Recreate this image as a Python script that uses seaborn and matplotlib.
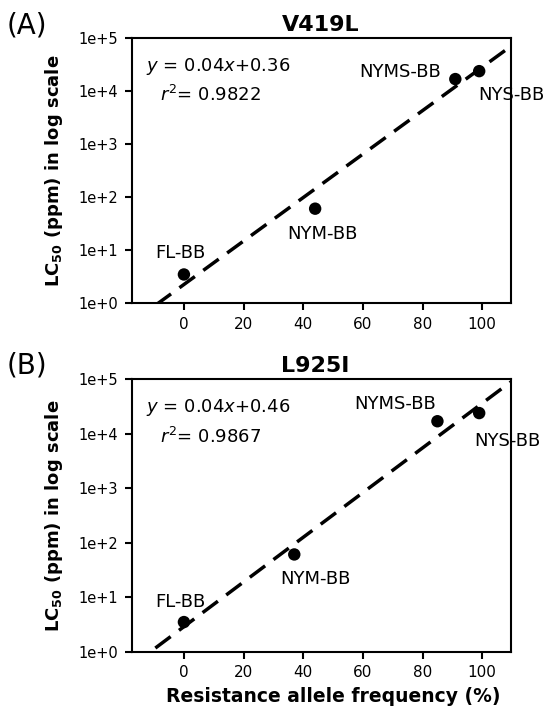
import numpy as np
import pandas as pd
import matplotlib
matplotlib.use("Agg")
import matplotlib.pyplot as plt
from matplotlib.ticker import NullLocator, FixedLocator, FixedFormatter
import seaborn as sns

# ---------------- data ----------------
populations = ["FL-BB", "NYM-BB", "NYMS-BB", "NYS-BB"]
lc50_ppm = [3.5, 61, 17000, 24000]
freq_v419l = [0, 44, 91, 99]
freq_l925i = [0, 37, 85, 99]
# drawn regression lines (log10(LC50) = intercept + slope * freq)
fit_v419l = [0.041, 0.355]
fit_l925i = [0.041, 0.46]
eq_v419l = ["0.04", "0.36", "0.9822"]
eq_l925i = ["0.04", "0.46", "0.9867"]
panel_titles = ["V419L", "L925I"]
panel_letters = ["(A)", "(B)"]
x_ticks = [0, 20, 40, 60, 80, 100]
y_ticks = [1, 10, 100, 1000, 10000, 100000]
y_tick_labels = ["1e+0", "1e+1", "1e+2", "1e+3", "1e+4", "1e+5"]
x_label = "Resistance allele frequency (%)"
y_label = r"LC$_\mathbf{50}$ (ppm) in log scale"

# ---------------- style ----------------
sns.set_style("ticks")
plt.rcParams["font.family"] = ["DejaVu Sans"]
plt.rcParams["mathtext.fontset"] = "dejavusans"
for k in ["text.color", "axes.labelcolor", "xtick.color", "ytick.color", "axes.edgecolor"]:
    plt.rcParams[k] = "black"

XLIM = (-17.5, 109.5)

fig = plt.figure(figsize=(5.45, 7.09), dpi=100)
axA = fig.add_axes([0.2417, 0.5722, 0.695, 0.3738])
axB = fig.add_axes([0.2417, 0.0808, 0.695, 0.3842])

panels = [
    dict(ax=axA, freq=freq_v419l, fit=fit_v419l, eq=eq_v419l, title=panel_titles[0],
         title_x=0.5, letter=panel_letters[0], letter_pos=(0.0486, 0.9647),
         offsets=[(-2.7, 16.7), (5.0, -16.8), (-40.0, 6.7), (23.3, -16.0)], xlabel=False),
    dict(ax=axB, freq=freq_l925i, fit=fit_l925i, eq=eq_l925i, title=panel_titles[1],
         title_x=0.485, letter=panel_letters[1], letter_pos=(0.0495, 0.485),
         offsets=[(-2.7, 15.6), (15.0, -16.3), (-30.5, 13.7), (20.5, -18.7)], xlabel=True),
]

for p in panels:
    ax = p["ax"]
    ax.set_yscale("log")
    df = pd.DataFrame({"freq": p["freq"], "lc50": lc50_ppm, "pop": populations})
    slope, intercept = p["fit"]
    xs = np.array(XLIM)
    line_df = pd.DataFrame({"x": xs, "y": 10 ** (intercept + slope * xs)})
    sns.lineplot(data=line_df, x="x", y="y", ax=ax, color="black", lw=2.5,
                 linestyle=(0, (5.5, 3.0)), zorder=2)
    sns.scatterplot(data=df, x="freq", y="lc50", ax=ax, color="black", s=80,
                    edgecolor="none", zorder=3, legend=False)
    for (name, fx, ly), off in zip(zip(populations, p["freq"], lc50_ppm), p["offsets"]):
        ax.annotate(name, (fx, ly), xytext=off, textcoords="offset points",
                    ha="center", va="center_baseline", fontsize=13)

    ax.set_xlim(*XLIM)
    ax.set_ylim(1, 1e5)
    ax.xaxis.set_major_locator(FixedLocator(x_ticks))
    ax.yaxis.set_major_locator(FixedLocator(y_ticks))
    ax.yaxis.set_major_formatter(FixedFormatter(y_tick_labels))
    ax.yaxis.set_minor_locator(NullLocator())
    ax.xaxis.set_minor_locator(NullLocator())
    ax.tick_params(axis="both", direction="out", length=5, width=1.5)
    ax.tick_params(axis="x", labelsize=11, pad=4.5)
    ax.tick_params(axis="y", labelsize=10.5, pad=5)
    for s in ax.spines.values():
        s.set_linewidth(1.5)
        s.set_color("black")

    ax.text(0.0377, 0.906, r"$y$ = " + p["eq"][0] + r"$x$+" + p["eq"][1],
            transform=ax.transAxes, fontsize=13, ha="left", va="center_baseline")
    ax.text(0.0747, 0.795, r"$r^2$= " + p["eq"][2],
            transform=ax.transAxes, fontsize=13, ha="left", va="center_baseline")

    ax.set_title(p["title"], fontsize=16, fontweight="bold", pad=5, x=p["title_x"])
    ax.set_ylabel(y_label, fontsize=13, fontweight="bold")
    ax.yaxis.set_label_coords(-0.205, 0.5)
    ax.yaxis.label.set_va("center")
    if p["xlabel"]:
        ax.set_xlabel(x_label, fontsize=13.5, fontweight="bold")
        ax.xaxis.set_label_coords(0.532, -0.165)
        ax.xaxis.label.set_va("center")
    else:
        ax.set_xlabel("")

    fig.text(p["letter_pos"][0], p["letter_pos"][1], p["letter"], fontsize=20,
             ha="center", va="center")

fig.savefig("out.png", dpi=100)
